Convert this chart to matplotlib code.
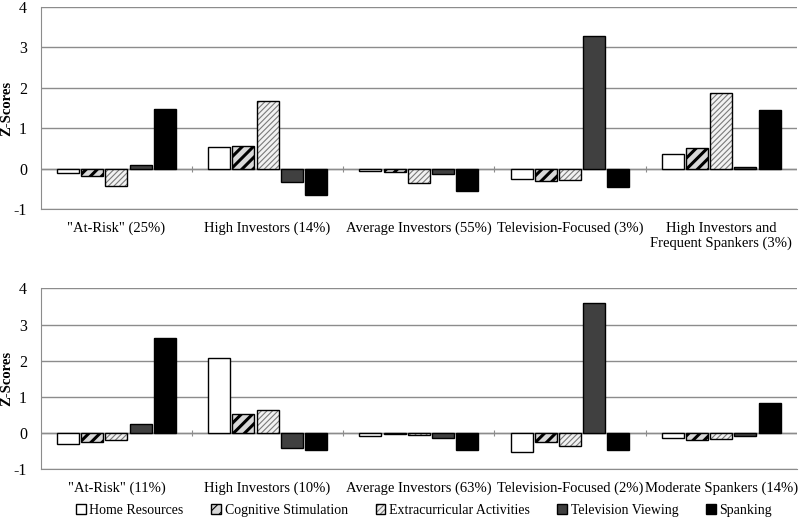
import matplotlib
matplotlib.use("Agg")
import matplotlib.pyplot as plt
import numpy as np
from matplotlib.patches import Patch
from matplotlib.legend_handler import HandlerTuple

plt.rcParams['font.family'] = ['Liberation Serif', 'DejaVu Serif']

series = ["Home Resources", "Cognitive Stimulation", "Extracurricular Activities",
          "Television Viewing", "Spanking"]

top_groups = ['"At-Risk" (25%)', 'High Investors (14%)', 'Average Investors (55%)',
              'Television-Focused (3%)', 'High Investors and\nFrequent Spankers (3%)']
top_home = [-0.10, 0.53, -0.05, -0.26, 0.36]
top_cog = [-0.17, 0.57, -0.07, -0.31, 0.51]
top_extra = [-0.42, 1.68, -0.36, -0.27, 1.88]
top_tv = [0.10, -0.34, -0.14, 3.28, 0.04]
top_spank = [1.48, -0.65, -0.56, -0.44, 1.45]

bot_groups = ['"At-Risk" (11%)', 'High Investors (10%)', 'Average Investors (63%)',
              'Television-Focused (2%)', 'Moderate Spankers (14%)']
bot_home = [-0.29, 2.08, -0.07, -0.53, -0.13]
bot_cog = [-0.24, 0.54, -0.03, -0.24, -0.20]
bot_extra = [-0.19, 0.65, -0.04, -0.36, -0.15]
bot_tv = [0.25, -0.42, -0.13, 3.60, -0.09]
bot_spank = [2.63, -0.48, -0.48, -0.48, 0.82]

yticks = [-1, 0, 1, 2, 3, 4]

styles = [
    dict(facecolor='white', hatch=None, hcolor='black', hlw=1.0),
    dict(facecolor='#d8d8d8', hatch='///', hcolor='black', hlw=2.2),
    dict(facecolor='#f2f2f2', hatch='//////', hcolor='#7a7a7a', hlw=0.8),
    dict(facecolor='#404040', hatch=None, hcolor='black', hlw=1.0),
    dict(facecolor='black', hatch=None, hcolor='black', hlw=1.0),
]

grid_c = '#8c8c8c'
fig = plt.figure(figsize=(8, 5.23), dpi=100)
ax1 = fig.add_axes([0.051, 0.600, 0.945, 0.387])
ax2 = fig.add_axes([0.051, 0.1027, 0.945, 0.346])

width = 0.145
pitch = 0.16


def set_hlw(patches, lw):
    for p in patches:
        if hasattr(p, 'set_hatch_linewidth'):
            p.set_hatch_linewidth(lw)


def draw(ax, groups, data):
    x = np.arange(len(groups))
    for i, (vals, st) in enumerate(zip(data, styles)):
        pos = x + (i - 2) * pitch
        plt.rcParams['hatch.linewidth'] = st['hlw']
        bars = ax.bar(pos, vals, width, color=st['facecolor'], edgecolor=st['hcolor'],
                      hatch=st['hatch'], linewidth=0, zorder=3)
        set_hlw(bars.patches, st['hlw'])
        ax.bar(pos, vals, width, facecolor='none', edgecolor='black', linewidth=1.0, zorder=4)
    ax.set_xlim(-0.5, len(groups) - 0.5)
    ax.set_ylim(-1, 4)
    ax.set_yticks(yticks)
    ax.set_yticklabels([str(v) for v in yticks], fontsize=11.5)
    ax.yaxis.grid(True, color=grid_c, linewidth=1.0, zorder=0)
    ax.set_axisbelow(True)
    ax.tick_params(axis='y', length=0, pad=10)
    ax.set_xticks(x)
    ax.set_xticklabels(groups, fontsize=10.5)
    ax.tick_params(axis='x', length=0, pad=9)
    for s in ['top', 'right']:
        ax.spines[s].set_visible(False)
    ax.spines['left'].set_color(grid_c)
    ax.spines['bottom'].set_color(grid_c)
    ax.axhline(0, color=grid_c, linewidth=1.0, zorder=2)
    sec = ax.secondary_xaxis(0.2)
    sec.set_xticks(np.arange(len(groups) - 1) + 0.5)
    sec.set_xticklabels([])
    sec.tick_params(length=5, direction='inout', color=grid_c)
    sec.spines['bottom'].set_visible(False)
    ax.set_ylabel('Z-Scores', fontsize=10.5, fontweight='bold')
    ax.yaxis.set_label_coords(-0.037, 0.5)

draw(ax1, top_groups, [top_home, top_cog, top_extra, top_tv, top_spank])
draw(ax2, bot_groups, [bot_home, bot_cog, bot_extra, bot_tv, bot_spank])

handles = []
for st in styles:
    plt.rcParams['hatch.linewidth'] = st['hlw'] * 0.8
    fill = Patch(facecolor=st['facecolor'], edgecolor=st['hcolor'], hatch=st['hatch'], linewidth=0)
    if hasattr(fill, 'set_hatch_linewidth'):
        fill.set_hatch_linewidth(st['hlw'] * 0.8)
    edge = Patch(facecolor='none', edgecolor='black', linewidth=1.0)
    handles.append((fill, edge))

fig.legend(handles, series, loc='lower center', bbox_to_anchor=(0.53, -0.012), ncol=5,
           frameon=False, fontsize=10, handlelength=0.7, handleheight=0.7,
           handletextpad=0.25, columnspacing=2.0,
           handler_map={tuple: HandlerTuple(ndivide=1)})

fig.savefig('out.png', dpi=100)
